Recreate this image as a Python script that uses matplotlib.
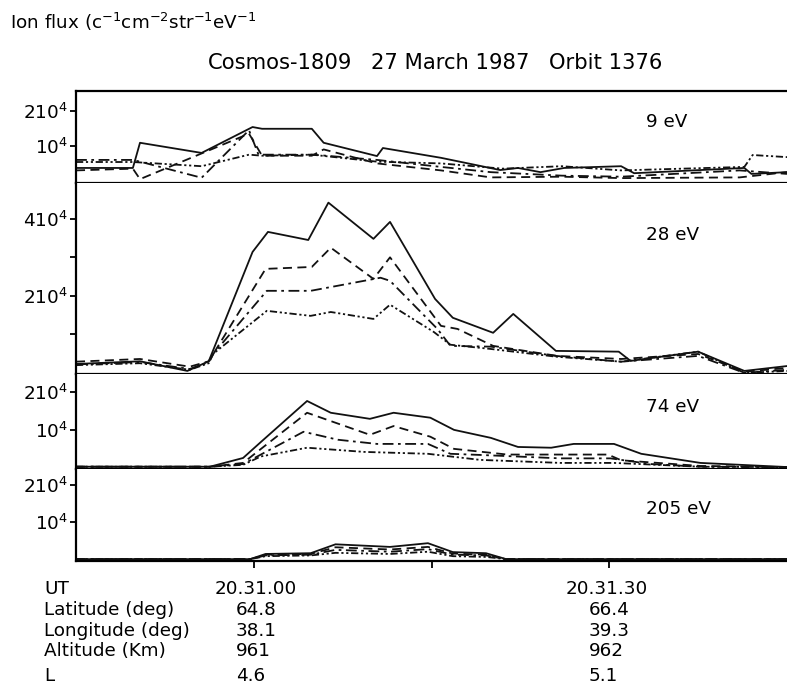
import numpy as np
import matplotlib.pyplot as plt

plt.rcParams['font.family'] = 'DejaVu Sans'
plt.rcParams['mathtext.default'] = 'regular'

# time in seconds relative to 20.31.00 UT, flux in units of 10^4
# 9 eV
t9_solid = [-15, -10.2, -9.6, -4.4, -0.1, 0.7, 4.9, 5.9, 10.4, 10.9, 15.8, 20.8, 22.3, 24.2, 26.2, 31.0, 32.1, 41.4, 42.0, 45]
f9_solid = [0.37, 0.37, 1.09, 0.80, 1.54, 1.49, 1.49, 1.09, 0.71, 0.94, 0.66, 0.31, 0.37, 0.25, 0.37, 0.42, 0.22, 0.37, 0.20, 0.25]
t9_dash = [-15, -10.2, -9.6, -0.4, 0.7, 4.9, 5.9, 10.4, 15.8, 20.0, 26.0, 31.0, 41.0, 45]
f9_dash = [0.30, 0.35, 0.05, 1.35, 0.72, 0.72, 0.90, 0.50, 0.30, 0.10, 0.12, 0.08, 0.10, 0.25]
t9_dashdot = [-15, -10.2, -9.6, -4.4, -0.4, 0.4, 5.0, 10.4, 15.8, 20.0, 26.0, 31.0, 41.0, 45]
f9_dashdot = [0.60, 0.60, 0.55, 0.09, 1.45, 0.75, 0.75, 0.60, 0.40, 0.25, 0.15, 0.12, 0.30, 0.20]
t9_dot = [-15, -10.2, -4.4, -0.4, 0.7, 4.9, 10.4, 15.8, 21.0, 26.0, 31.0, 41.4, 42.1, 45]
f9_dot = [0.54, 0.54, 0.42, 0.75, 0.72, 0.75, 0.55, 0.50, 0.35, 0.42, 0.30, 0.40, 0.74, 0.68]

# 28 eV
t28_solid = [-15, -9.6, -5.6, -3.8, -0.1, 1.2, 4.6, 6.3, 10.1, 11.5, 15.3, 16.8, 20.2, 21.9, 25.5, 30.8, 31.8, 37.5, 41.4, 45.1]
f28_solid = [0.23, 0.30, 0.05, 0.30, 3.14, 3.66, 3.45, 4.42, 3.48, 3.92, 1.92, 1.43, 1.04, 1.53, 0.57, 0.55, 0.31, 0.55, 0.05, 0.18]
t28_dash = [-15, -9.6, -5.4, -3.8, -3.4, 1.0, 4.9, 6.5, 10.1, 11.5, 15.8, 17.2, 20.2, 25.6, 31.0, 37.5, 41.4, 45.1]
f28_dash = [0.29, 0.36, 0.16, 0.30, 0.50, 2.70, 2.75, 3.25, 2.44, 3.00, 1.22, 1.14, 0.70, 0.44, 0.36, 0.49, 0.03, 0.13]
t28_dashdot = [-15, -9.6, -5.4, -3.8, -3.4, 1.1, 4.8, 10.7, 11.5, 15.5, 16.6, 20.0, 25.5, 31.0, 37.5, 41.4, 45.1]
f28_dashdot = [0.22, 0.28, 0.10, 0.28, 0.50, 2.13, 2.13, 2.47, 2.39, 1.14, 0.70, 0.68, 0.44, 0.29, 0.44, 0.0, 0.08]
t28_dot = [-15, -9.6, -5.4, -3.8, -3.4, 1.1, 4.8, 6.5, 10.1, 11.5, 15.2, 16.6, 20.0, 25.5, 31.0, 37.5, 41.4, 45.1]
f28_dot = [0.20, 0.25, 0.08, 0.25, 0.50, 1.61, 1.48, 1.58, 1.40, 1.77, 1.06, 0.73, 0.62, 0.42, 0.29, 0.55, 0.0, 0.05]

# 74 eV
t74_solid = [-15, -3.7, -0.9, 0.6, 4.5, 6.5, 9.8, 11.8, 14.9, 16.9, 20.0, 22.3, 25.1, 27.0, 30.4, 32.7, 37.7, 45.1]
f74_solid = [0.03, 0.03, 0.26, 0.68, 1.76, 1.45, 1.29, 1.45, 1.32, 1.00, 0.79, 0.55, 0.53, 0.63, 0.63, 0.37, 0.13, 0.02]
t74_dash = [-15, -3.7, -0.9, 4.5, 9.8, 11.8, 14.9, 16.9, 21.4, 29.9, 31.0, 37.7, 45.1]
f74_dash = [0.03, 0.03, 0.13, 1.45, 0.87, 1.10, 0.82, 0.50, 0.35, 0.35, 0.20, 0.05, 0.02]
t74_dashdot = [-15, -3.7, -0.9, 4.2, 7.1, 10.4, 14.7, 16.6, 19.1, 25.9, 30.1, 33.5, 37.7, 45.1]
f74_dashdot = [0.03, 0.03, 0.10, 0.95, 0.74, 0.63, 0.63, 0.37, 0.34, 0.25, 0.25, 0.10, 0.03, 0.02]
t74_dot = [-15, -3.7, -0.9, 0.6, 4.5, 9.3, 14.7, 19.1, 25.9, 30.4, 37.7, 45.1]
f74_dot = [0.03, 0.03, 0.08, 0.30, 0.53, 0.42, 0.37, 0.21, 0.13, 0.13, 0.03, 0.02]

# 205 eV
t205_solid = [-15, -0.3, 1.0, 4.8, 6.9, 11.5, 14.7, 16.8, 19.6, 21.3, 45]
f205_solid = [0.0, 0.0, 0.14, 0.16, 0.40, 0.33, 0.43, 0.19, 0.16, 0.0, 0.0]
t205_dash = [-15, -0.3, 1.0, 4.8, 6.9, 11.5, 14.7, 16.8, 19.6, 21.3, 45]
f205_dash = [0.0, 0.0, 0.12, 0.14, 0.32, 0.26, 0.33, 0.15, 0.12, 0.0, 0.0]
t205_dashdot = [-15, -0.3, 1.0, 4.8, 6.9, 11.5, 14.7, 16.8, 19.6, 21.3, 45]
f205_dashdot = [0.0, 0.0, 0.10, 0.12, 0.25, 0.20, 0.27, 0.12, 0.10, 0.0, 0.0]
t205_dot = [-15, -0.3, 1.0, 4.8, 6.9, 11.5, 14.7, 16.8, 19.6, 21.3, 45]
f205_dot = [0.0, 0.0, 0.08, 0.10, 0.17, 0.14, 0.20, 0.08, 0.06, 0.0, 0.0]

energies = ['9 eV', '28 eV', '74 eV', '205 eV']

row_names = ['UT', 'Latitude (deg)', 'Longitude (deg)', 'Altitude (Km)', 'L']
col1 = ['20.31.00', '64.8', '38.1', '961', '4.6']
col2 = ['20.31.30', '66.4', '39.3', '962', '5.1']

title_parts = ['Cosmos-1809', '27 March 1987', 'Orbit 1376']

styles = ['-', (0, (5, 3)), (0, (6, 2.5, 1.5, 2.5)), (0, (4, 1.5, 1.2, 1.5, 1.2, 1.5))]

panels = [
    ([(t9_solid, f9_solid), (t9_dash, f9_dash), (t9_dashdot, f9_dashdot), (t9_dot, f9_dot)],
     (-0.06, 2.57), [1, 2], ['10$^4$', '210$^4$'], []),
    ([(t28_solid, f28_solid), (t28_dash, f28_dash), (t28_dashdot, f28_dashdot), (t28_dot, f28_dot)],
     (-0.03, 4.93), [2, 4], ['210$^4$', '410$^4$'], [1, 3]),
    ([(t74_solid, f74_solid), (t74_dash, f74_dash), (t74_dashdot, f74_dashdot), (t74_dot, f74_dot)],
     (-0.03, 2.47), [1, 2], ['10$^4$', '210$^4$'], []),
    ([(t205_solid, f205_solid), (t205_dash, f205_dash), (t205_dashdot, f205_dashdot), (t205_dot, f205_dot)],
     (-0.05, 2.43), [1, 2], ['10$^4$', '210$^4$'], []),
]

# panel edges in pixels (top, bottom)
edges = [(91, 183), (183, 374), (374, 469), (469, 561)]
label_y = [127, 240, 412, 514]

W, H = 787, 700
fig = plt.figure(figsize=(W / 100, H / 100), dpi=100)

for i, (series, ylim, ticks, ticklabels, minor) in enumerate(panels):
    top, bot = edges[i]
    ax = fig.add_axes([76 / W, 1 - bot / H, 1 - 76 / W, (bot - top) / H])
    for (t, f), ls in zip(series, styles):
        ax.plot(t, f, color='#111111', lw=1.3, linestyle=ls)
    ax.set_xlim(-15, 45)
    ax.set_ylim(*ylim)
    ax.set_yticks(ticks)
    ax.set_yticklabels(ticklabels)
    ax.set_yticks(minor, minor=True)
    ax.tick_params(axis='y', which='both', direction='out', length=4, width=1.3,
                   labelsize=13.2, pad=2)
    ax.spines['right'].set_visible(False)
    ax.spines['top'].set_visible(i == 0)
    for s in ax.spines.values():
        s.set_linewidth(1.6)
    if i == 3:
        ax.set_xticks([0, 15, 30])
        ax.tick_params(axis='x', direction='out', length=5, width=1.3, labelbottom=False)
    else:
        ax.set_xticks([])
    fig.text(646 / W, 1 - label_y[i] / H, energies[i], fontsize=13.2, va='baseline')

fig.text(10 / W, 1 - 29 / H, 'Ion flux (c$^{-1}$cm$^{-2}$str$^{-1}$eV$^{-1}$', fontsize=13.2, va='baseline')
for part, xp in zip(title_parts, [208, 371, 549]):
    fig.text(xp / W, 1 - 69 / H, part, fontsize=15.2, va='baseline')

row_base = [594, 615, 636, 656, 681]
for name, a, b, yb in zip(row_names, col1, col2, row_base):
    fig.text(44 / W, 1 - yb / H, name, fontsize=13.2, va='baseline')
    if a == col1[0]:
        fig.text(256 / W, 1 - yb / H, a, fontsize=13.2, va='baseline', ha='center')
        fig.text(607 / W, 1 - yb / H, b, fontsize=13.2, va='baseline', ha='center')
    else:
        fig.text(236 / W, 1 - yb / H, a, fontsize=13.2, va='baseline')
        fig.text(589 / W, 1 - yb / H, b, fontsize=13.2, va='baseline')

fig.savefig('out.png', dpi=100)
